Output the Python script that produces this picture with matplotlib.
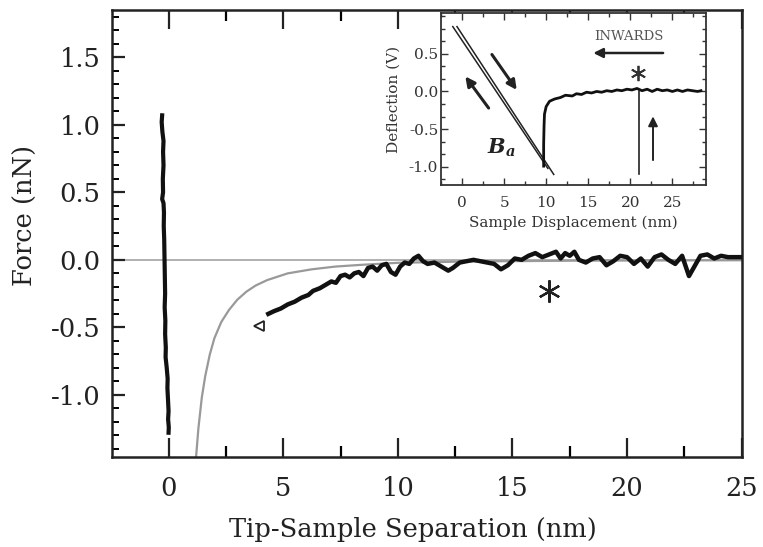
import numpy as np
import matplotlib
matplotlib.use("Agg")
import matplotlib.pyplot as plt
import matplotlib as mpl
from matplotlib.ticker import MultipleLocator, AutoMinorLocator

mpl.rcParams.update({
    "font.family": "DejaVu Serif",
    "axes.unicode_minus": False,
    "mathtext.fontset": "custom",
    "mathtext.it": "DejaVu Serif:italic:bold",
    "mathtext.rm": "DejaVu Serif:bold",
})

# main panel: contact (hard wall) trace near zero separation
wall_x = [-0.28, -0.30, -0.27, -0.22, -0.24, -0.22, -0.25, -0.24, -0.28, -0.22, -0.20, -0.21,
          -0.19, -0.18, -0.17, -0.16, -0.15, -0.17, -0.14, -0.15, -0.12, -0.13, -0.08, -0.04,
          -0.05, -0.02, 0.00, -0.02, 0.01, 0.00]
wall_f = [1.07, 1.02, 0.95, 0.88, 0.80, 0.70, 0.60, 0.50, 0.45, 0.42, 0.35, 0.25,
          0.15, 0.05, -0.05, -0.15, -0.25, -0.35, -0.45, -0.55, -0.65, -0.72, -0.80, -0.88,
          -0.95, -1.05, -1.12, -1.18, -1.24, -1.28]

# main panel: attractive force trace
sep = [4.35, 4.6, 4.9, 5.2, 5.5, 5.8, 6.1, 6.3, 6.6, 6.9, 7.1, 7.3, 7.5, 7.7, 7.9, 8.1, 8.3,
       8.5, 8.7, 8.9, 9.1, 9.3, 9.5, 9.7, 9.9, 10.1, 10.3, 10.5, 10.7, 10.9, 11.1, 11.3, 11.6,
       11.9, 12.2, 12.4, 12.7, 13.0, 13.3, 13.6, 13.9, 14.2, 14.5, 14.8, 15.1, 15.4, 15.7,
       16.0, 16.3, 16.6, 16.9, 17.1, 17.3, 17.5, 17.7, 17.9, 18.2, 18.5, 18.8, 19.1, 19.4,
       19.7, 20.0, 20.3, 20.6, 20.9, 21.2, 21.5, 21.8, 22.1, 22.4, 22.7, 22.9, 23.2, 23.5,
       23.8, 24.1, 24.4, 24.7, 25.0]
force = [-0.40, -0.38, -0.36, -0.33, -0.31, -0.28, -0.26, -0.23, -0.21, -0.18, -0.16, -0.17,
         -0.12, -0.11, -0.13, -0.10, -0.09, -0.12, -0.06, -0.05, -0.08, -0.04, -0.03, -0.09,
         -0.11, -0.05, -0.02, -0.03, 0.01, 0.03, -0.01, -0.03, -0.02, -0.05, -0.08, -0.06,
         -0.02, -0.01, 0.00, -0.01, -0.02, -0.03, -0.07, -0.04, 0.01, 0.00, 0.03, 0.05, 0.02,
         0.04, 0.06, 0.01, 0.05, 0.03, 0.06, 0.00, -0.02, 0.01, 0.02, -0.04, -0.01, 0.03, 0.02,
         -0.03, 0.01, -0.05, 0.02, 0.04, 0.00, -0.03, 0.03, -0.12, -0.06, 0.03, 0.04, 0.01,
         0.03, 0.02, 0.02, 0.02]

# main panel: model (gray) curve
model_x = [1.2, 1.3, 1.45, 1.6, 1.8, 2.0, 2.3, 2.64, 3.0, 3.4, 3.8, 4.3, 5.2, 6.25, 7.26,
           8.4, 10.0, 13.0, 18.0, 25.0]
model_f = [-1.46, -1.25, -1.02, -0.86, -0.70, -0.58, -0.46, -0.37, -0.295, -0.235, -0.19,
           -0.15, -0.10, -0.07, -0.05, -0.037, -0.022, -0.012, -0.006, -0.003]

# inset: approach / retract lines and jump-off trace
in_line1_x = [-1.1, 10.2]
in_line1_y = [0.86, -1.02]
in_line2_x = [-0.6, 10.9]
in_line2_y = [0.86, -1.10]
in_trace_x = [9.7, 9.7, 9.75, 9.8, 10.0, 10.4, 11.0, 11.7, 12.3, 13.1, 13.6, 14.2, 14.8,
              15.4, 16.0, 16.6, 17.2, 17.8, 18.4, 19.0, 19.6, 20.2, 20.8, 21.4, 22.0, 22.6,
              23.2, 23.8, 24.4, 25.0, 25.6, 26.2, 26.8, 27.4, 28.0, 28.4]
in_trace_y = [-0.99, -0.70, -0.45, -0.30, -0.20, -0.13, -0.10, -0.08, -0.05, -0.06, -0.03,
              -0.04, -0.01, -0.02, 0.00, -0.01, 0.01, 0.00, 0.02, 0.01, 0.03, 0.02, 0.04, 0.01,
              0.03, 0.00, 0.03, 0.01, 0.02, 0.00, 0.02, 0.00, 0.02, 0.01, 0.00, 0.01]
in_snap_x = [21.0, 21.0]
in_snap_y = [-1.10, 0.0]

fig = plt.figure(figsize=(7.63, 5.47), dpi=100)
ax = fig.add_axes([0.1464, 0.1645, 0.8257, 0.8172])

ax.axhline(0, color='#aaaaaa', lw=1.3, zorder=1)
ax.plot(model_x, model_f, color='#999999', lw=1.6, zorder=2)
ax.plot(wall_x, wall_f, color='#111111', lw=3.0, zorder=3)
ax.plot(sep, force, color='#111111', lw=3.2, zorder=3)
ax.plot([3.95], [-0.49], marker='<', ms=7, mfc='white', mec='#222222', mew=1.3, zorder=4)
ax.plot([16.6], [-0.23], marker=(6, 2, 0), ms=16, mew=1.6, color='#222222', zorder=4)

ax.set_xlim(-2.48, 24.8)
ax.set_ylim(-1.46, 1.85)
ax.set_xticks([0, 5, 10, 15, 20, 25])
ax.set_yticks([-1.0, -0.5, 0.0, 0.5, 1.0, 1.5])
ax.set_yticklabels(['-1.0', '-0.5', '0.0', '0.5', '1.0', '1.5'])
ax.xaxis.set_minor_locator(MultipleLocator(2.5))
ax.yaxis.set_minor_locator(MultipleLocator(0.1))
ax.tick_params(axis='x', which='major', direction='in', length=14, width=1.6, top=True,
               labelsize=18.5, pad=14, colors='#222222')
ax.tick_params(axis='x', which='minor', direction='in', length=8, width=1.6, top=True)
ax.tick_params(axis='y', which='major', direction='in', length=9.5, width=1.6,
               labelsize=18.5, pad=8, colors='#222222')
ax.tick_params(axis='y', which='minor', direction='in', length=4.7, width=1.4)
for s in ax.spines.values():
    s.set_linewidth(1.8)
    s.set_color('#222222')
ax.set_xlabel('Tip-Sample Separation (nm)', fontsize=18.5, color='#222222')
ax.set_ylabel('Force (nN)', fontsize=18.5, color='#222222')
ax.xaxis.set_label_coords(0.478, -0.135)
ax.yaxis.set_label_coords(-0.117, 0.54)

# inset
ins = fig.add_axes([0.578, 0.6618, 0.3473, 0.3144])
ins.set_facecolor('white')
ins.plot(in_line1_x, in_line1_y, color='#222222', lw=1.1)
ins.plot(in_line2_x, in_line2_y, color='#222222', lw=1.1)
ins.plot(in_trace_x, in_trace_y, color='#111111', lw=2.0)
ins.plot(in_snap_x, in_snap_y, color='#222222', lw=1.2)
ins.plot([20.9], [0.24], marker=(6, 2, 0), ms=11, mew=1.3, color='#333333')

arrow = dict(arrowstyle='-|>', color='#222222', lw=2.2, mutation_scale=14, shrinkA=0, shrinkB=0)
ins.annotate('', xy=(6.5, 0.02), xytext=(3.55, 0.49), arrowprops=arrow)
ins.annotate('', xy=(0.39, 0.20), xytext=(3.16, -0.22), arrowprops=arrow)
ins.annotate('', xy=(15.6, 0.51), xytext=(23.9, 0.51), arrowprops=dict(arrow, lw=1.8))
ins.annotate('', xy=(22.7, -0.33), xytext=(22.7, -0.91), arrowprops=dict(arrow, lw=1.4))
ins.text(19.8, 0.73, 'INWARDS', fontsize=9.5, color='#555555', ha='center', va='center')
ins.text(4.7, -0.75, '$B_a$', fontsize=15, color='#222222', ha='center', va='center')

ins.set_xlim(-2.5, 29.0)
ins.set_ylim(-1.24, 1.04)
ins.set_xticks([0, 5, 10, 15, 20, 25])
ins.set_yticks([-1.0, -0.5, 0.0, 0.5])
ins.set_yticklabels(['-1.0', '-0.5', '0.0', '0.5'])
ins.xaxis.set_minor_locator(MultipleLocator(2.5))
ins.yaxis.set_minor_locator(AutoMinorLocator(3))
ins.tick_params(which='both', direction='in', top=True, right=True, width=1.0,
                labelsize=11, colors='#333333')
ins.tick_params(which='major', length=5)
ins.tick_params(which='minor', length=3)
ins.tick_params(axis='y', pad=2)
ins.tick_params(axis='x', pad=8)
for s in ins.spines.values():
    s.set_linewidth(1.3)
    s.set_color('#333333')
ins.set_xlabel('Sample Displacement (nm)', fontsize=11, color='#333333', labelpad=4)
ins.set_ylabel('Deflection (V)', fontsize=11, color='#333333', labelpad=6)

fig.savefig('out.png', dpi=100, facecolor='white')
